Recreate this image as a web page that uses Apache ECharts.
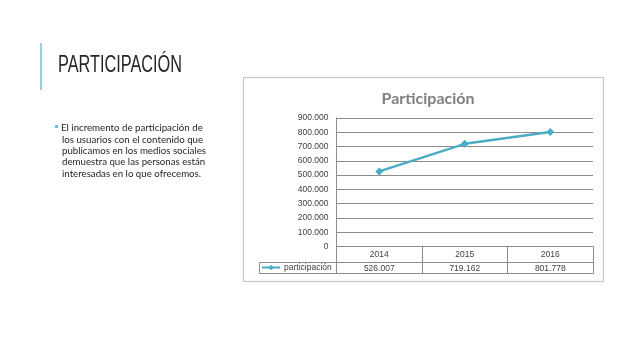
<!DOCTYPE html>
<html>
<head>
<meta charset="utf-8">
<script src="https://cdn.jsdelivr.net/npm/echarts@6/dist/echarts.min.js"></script>
<style>
html,body{margin:0;padding:0;background:#fff;}
#c{width:638px;height:359px;}
</style>
</head>
<body>
<div id="c"></div>
<script>
var categories = ['2014', '2015', '2016'];
var participacion = [526007, 719162, 801778];
var seriesName = 'participación';
var chartTitle = 'Participación';
var slideTitle = 'PARTICIPACIÓN';
var bulletLines = [
  'El incremento de participación de',
  'los usuarios con el contenido que',
  'publicamos en los medios sociales',
  'demuestra que las personas están',
  'interesadas en lo que ofrecemos.'
];
var yMin = 0, yMax = 900000, yStep = 100000;

function fmt(v) {
  return String(Math.round(v)).replace(/\B(?=(\d{3})+(?!\d))/g, '.');
}

var GRID = '#8c8c8c';
var LINE = '#4bacc6';
var labelFont = 'Liberation Sans';
var titleFont = '24px "Liberation Sans"';

// measure slide title to fit the reference width
var cv = document.createElement('canvas').getContext('2d');
cv.font = titleFont;
var tw = cv.measureText(slideTitle).width;
var titleScale = 124 / tw;

var graphics = [
  { type: 'rect', shape: { x: 40, y: 43, width: 2, height: 47 }, style: { fill: '#9ccfdc' }, silent: true },
  { type: 'text', x: 58, y: 77, scaleX: titleScale, style: { text: slideTitle, font: titleFont, fill: '#262626', textVerticalAlign: 'bottom' } },
  { type: 'rect', shape: { x: 55, y: 125, width: 3, height: 3 }, style: { fill: '#6cbcd2' } },
  { type: 'rect', shape: { x: 243.5, y: 77.5, width: 360, height: 204 }, style: { fill: 'none', stroke: '#c4c4c4', lineWidth: 1, shadowBlur: 3, shadowColor: 'rgba(0,0,0,0.10)' }, z: -1 },
  { type: 'rect', shape: { x: 259.5, y: 262.5, width: 77, height: 11 }, style: { fill: 'none', stroke: GRID, lineWidth: 1 } }
];
bulletLines.forEach(function (l, i) {
  graphics.push({ type: 'text', x: i === 0 ? 61 : 62, y: 128 + i * 11.4, style: { text: l, font: '9.7px Lato', fill: '#262626', textVerticalAlign: 'middle' } });
});

var chart = echarts.init(document.getElementById('c'), null, { renderer: 'canvas' });
chart.setOption({
  animation: false,
  backgroundColor: '#fff',
  title: {
    text: chartTitle,
    left: 423, top: 86, textAlign: 'center',
    textStyle: { fontFamily: 'Lato', fontWeight: 'bold', fontSize: 16, color: '#7f7f7f' }
  },
  legend: {
    left: 261, top: 263, padding: 0,
    itemWidth: 18, itemHeight: 7,
    textStyle: { fontFamily: labelFont, fontSize: 8.5, color: '#404040', padding: [0, 0, 0, -1] },
    data: [seriesName]
  },
  grid: { left: 336.5, right: 45, top: 118, bottom: 112.5, containLabel: false },
  xAxis: [
    {
      type: 'category', data: categories, position: 'bottom',
      axisLine: { show: true, lineStyle: { color: GRID, width: 1 } },
      axisTick: { show: true, length: 27, lineStyle: { color: GRID } },
      axisLabel: { fontFamily: labelFont, fontSize: 8.5, color: '#404040', margin: 4 }
    },
    {
      type: 'category', data: categories, position: 'bottom', offset: 15.5,
      axisLine: { show: true, lineStyle: { color: GRID, width: 1 } },
      axisTick: { show: false },
      axisLabel: { fontFamily: labelFont, fontSize: 8.5, color: '#404040', margin: 2,
        formatter: function (v, i) { return fmt(participacion[i]); } }
    },
    {
      type: 'category', data: categories, position: 'bottom', offset: 26.5,
      axisLine: { show: true, lineStyle: { color: GRID, width: 1 } },
      axisTick: { show: false }, axisLabel: { show: false }
    }
  ],
  yAxis: {
    type: 'value', min: yMin, max: yMax, interval: yStep,
    axisLine: { show: true, lineStyle: { color: GRID } },
    axisTick: { show: false },
    splitLine: { lineStyle: { color: GRID, width: 1 } },
    axisLabel: { fontFamily: labelFont, fontSize: 8.5, color: '#404040', margin: 8, formatter: fmt }
  },
  series: [{
    name: seriesName, type: 'line', data: participacion,
    symbol: 'diamond', symbolSize: 8,
    lineStyle: { color: LINE, width: 2.5 },
    itemStyle: { color: LINE }
  }],
  graphic: graphics
});
</script>
</body>
</html>
